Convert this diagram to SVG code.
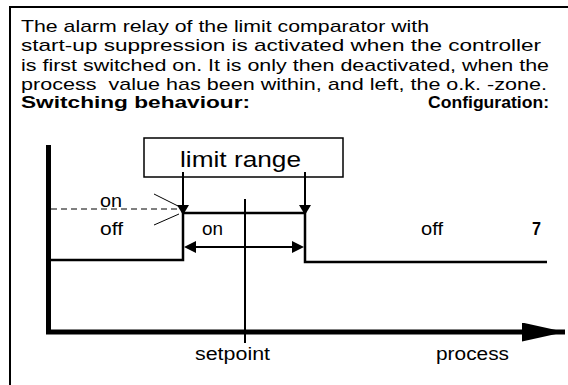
<svg xmlns="http://www.w3.org/2000/svg" width="568" height="385" viewBox="0 0 568 385">
<defs>
<style>
text{font-family:"Liberation Sans",Arial,sans-serif;font-size:17px;fill:#000}
.b{font-weight:bold}
.lbl{font-size:18px}
.big{font-size:22px}
.ln{stroke:#000;fill:none}
</style>
<marker id="ahBig" viewBox="0 0 43 19" refX="43" refY="9.5" markerWidth="43" markerHeight="19" markerUnits="userSpaceOnUse" orient="auto">
<path d="M0,0 L43,9.5 L0,19 Z" fill="#000"/>
</marker>
</defs>
<rect width="568" height="385" fill="#fff"/>
<g id="frame">
<path class="ln" stroke-width="2" d="M10,385 V7 H568"/>
</g>
<g id="description">
<text x="21" y="32" textLength="408" lengthAdjust="spacingAndGlyphs">The alarm relay of the limit comparator with</text>
<text x="21" y="51" textLength="520" lengthAdjust="spacingAndGlyphs">start-up suppression is activated when the controller</text>
<text x="21" y="71" textLength="528" lengthAdjust="spacingAndGlyphs">is first switched on. It is only then deactivated, when the</text>
<text x="21" y="90" textLength="526" lengthAdjust="spacingAndGlyphs" xml:space="preserve">process  value has been within, and left, the o.k. -zone.</text>
<text class="b" x="21" y="108" textLength="229" lengthAdjust="spacingAndGlyphs">Switching behaviour:</text>
<text class="b" x="428" y="108" textLength="121" lengthAdjust="spacingAndGlyphs">Configuration:</text>
</g>
<g id="limit-range">
<rect x="144" y="138" width="199" height="39" fill="#fff" stroke="#000" stroke-width="1.5"/>
<text class="big" x="180" y="167" textLength="121" lengthAdjust="spacingAndGlyphs">limit range</text>
</g>
<g id="axes">
<path class="ln" stroke-width="5" d="M48.5,145 V332 H565" marker-end="url(#ahBig)"/>
<path class="ln" stroke-width="2" d="M245,199 V343"/>
<text class="lbl" x="195" y="360" textLength="75" lengthAdjust="spacingAndGlyphs">setpoint</text>
<text class="lbl" x="436" y="360" textLength="73" lengthAdjust="spacingAndGlyphs">process</text>
</g>
<g id="connectors">
<path class="ln" stroke-width="2" d="M183,172 V215"/>
<path d="M177,205 L189,205 L183,215 Z" fill="#000"/>
<path class="ln" stroke-width="2" d="M305,172 V215"/>
<path d="M299,205 L311,205 L305,215 Z" fill="#000"/>
<path class="ln" stroke-width="2.5" d="M49,260 H183 V213 H305 V262 H547"/>
<path class="ln" stroke-width="1" stroke-dasharray="6,4" d="M51,209 H178"/>
<path class="ln" stroke-width="1" d="M154,194 L180,207 M154,225 L179,214"/>
<path class="ln" stroke-width="2" d="M195,247 H293"/>
<path d="M196,241 L184,247 L196,253 Z" fill="#000"/>
<path d="M292,241 L304,247 L292,253 Z" fill="#000"/>
</g>
<g id="states">
<text class="lbl" x="100" y="207" textLength="22" lengthAdjust="spacingAndGlyphs">on</text>
<text class="lbl" x="100" y="235" textLength="23" lengthAdjust="spacingAndGlyphs">off</text>
<text class="lbl" x="202" y="235" textLength="21" lengthAdjust="spacingAndGlyphs">on</text>
<text class="lbl" x="421" y="235" textLength="22" lengthAdjust="spacingAndGlyphs">off</text>
<text class="lbl b" x="532" y="235" textLength="9" lengthAdjust="spacingAndGlyphs">7</text>
</g>
</svg>
